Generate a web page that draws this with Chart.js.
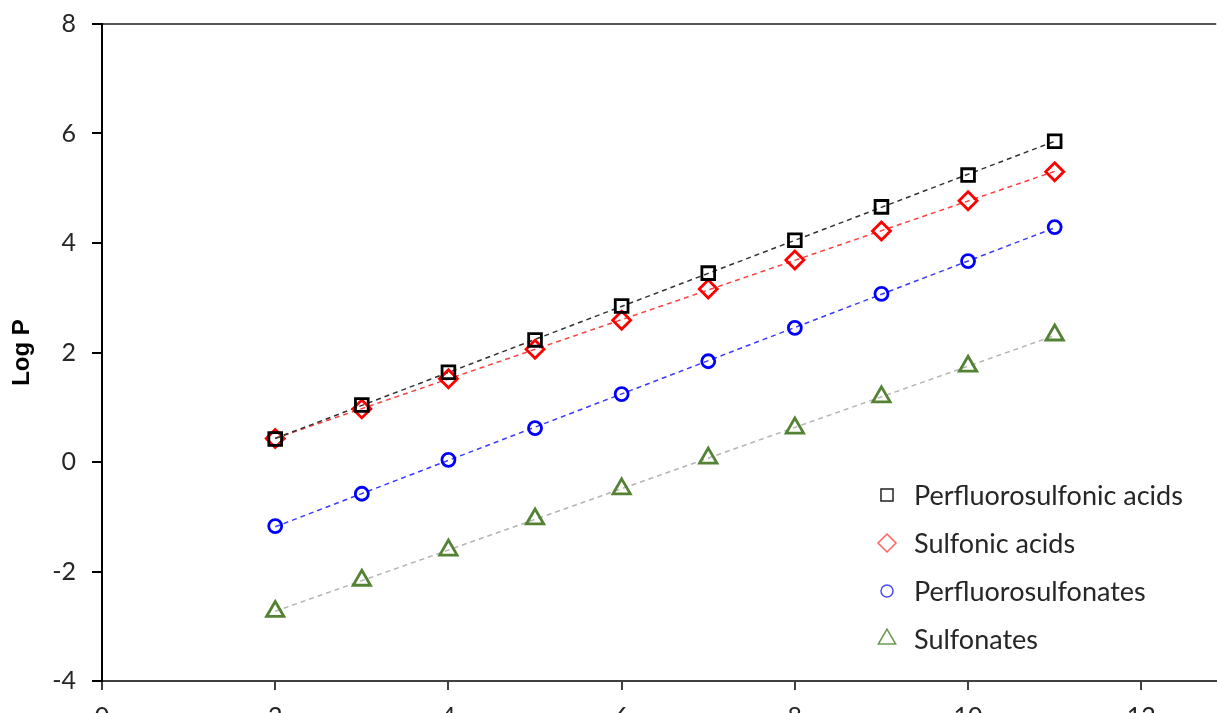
<!DOCTYPE html>
<html>
<head>
<meta charset="utf-8">
<script src="https://cdn.jsdelivr.net/npm/chart.js@4.4.1/dist/chart.umd.min.js"></script>
<style>
  html, body { margin: 0; padding: 0; background: #fff; overflow: hidden; }
  #wrap { position: relative; width: 1229px; height: 740px; }
</style>
</head>
<body>
<div id="wrap"><canvas id="chart"></canvas></div>
<script>
// carbon chain length
const chainLength = [2, 3, 4, 5, 6, 7, 8, 9, 10, 11];

const perfluorosulfonicAcids = [0.42, 1.04, 1.64, 2.23, 2.85, 3.45, 4.05, 4.66, 5.24, 5.86];
const sulfonicAcids = [0.43, 0.97, 1.52, 2.06, 2.59, 3.16, 3.69, 4.22, 4.77, 5.30];
const perfluorosulfonates = [-1.17, -0.58, 0.04, 0.62, 1.24, 1.84, 2.45, 3.07, 3.67, 4.29];
const sulfonates = [-2.73, -2.16, -1.61, -1.04, -0.49, 0.07, 0.62, 1.19, 1.75, 2.32];

const xTicks = [0, 2, 4, 6, 8, 10, 12];
const yTicks = [-4, -2, 0, 2, 4, 6, 8];

const series = [
  { label: 'Perfluorosulfonic acids', data: perfluorosulfonicAcids, color: '#000000', legendColor: '#222222', line: '#333333', style: 'rect', radius: 9, legendRadius: 8.5 },
  { label: 'Sulfonic acids', data: sulfonicAcids, color: '#ff0000', legendColor: '#ff6060', line: '#ff4040', style: 'rectRot', radius: 9, legendRadius: 9 },
  { label: 'Perfluorosulfonates', data: perfluorosulfonates, color: '#0000ff', legendColor: '#4a4aff', line: '#3a3aff', style: 'circle', radius: 6.5, legendRadius: 6 },
  { label: 'Sulfonates', data: sulfonates, color: '#548235', legendColor: '#6a9a50', line: '#b4b4b4', style: 'triangle', radius: 10, legendRadius: 10 }
];

// least squares trend line through each series
function fit(xs, ys) {
  const n = xs.length;
  const mx = xs.reduce((a, b) => a + b, 0) / n;
  const my = ys.reduce((a, b) => a + b, 0) / n;
  let sxy = 0, sxx = 0;
  for (let i = 0; i < n; i++) {
    sxy += (xs[i] - mx) * (ys[i] - my);
    sxx += (xs[i] - mx) * (xs[i] - mx);
  }
  const b = sxy / sxx;
  const a = my - b * mx;
  const x0 = xs[0], x1 = xs[n - 1];
  return [{ x: x0, y: a + b * x0 }, { x: x1, y: a + b * x1 }];
}

const datasets = [];
series.forEach(s => {
  datasets.push({
    label: s.label + ' trend',
    data: fit(chainLength, s.data),
    showLine: true,
    borderColor: s.line,
    borderWidth: 1.5,
    borderDash: [5, 4],
    pointRadius: 0,
    order: 2
  });
});
series.forEach(s => {
  datasets.push({
    label: s.label,
    data: chainLength.map((x, i) => ({ x: x, y: s.data[i] })),
    showLine: false,
    pointStyle: s.style,
    pointRadius: s.radius,
    pointBorderWidth: 2.8,
    pointBackgroundColor: 'rgba(255,255,255,0)',
    pointBorderColor: s.color,
    order: 1
  });
});

const legendPlugin = {
  id: 'insideLegend',
  afterDraw(chart) {
    const ctx = chart.ctx;
    ctx.save();
    ctx.textBaseline = 'middle';
    series.forEach((s, i) => {
      const y = 495 + i * 48;
      ctx.strokeStyle = s.legendColor;
      ctx.fillStyle = 'rgba(255,255,255,0)';
      ctx.lineWidth = 1.5;
      Chart.helpers.drawPoint(ctx, { pointStyle: s.style, radius: s.legendRadius, borderWidth: 1.5 }, 887, y);
      ctx.font = "27px Lato, 'Open Sans', sans-serif";
      ctx.fillStyle = '#262626';
      ctx.fillText(s.label, 914, y + 1);
    });
    ctx.restore();
  }
};

const tickFont = { family: "Lato, 'Open Sans', sans-serif", size: 25 };

new Chart(document.getElementById('chart'), {
  type: 'scatter',
  data: { datasets: datasets },
  plugins: [legendPlugin],
  options: {
    responsive: true,
    maintainAspectRatio: false,
    animation: false,
    layout: { padding: { top: 24, right: 0, left: 0, bottom: 0 } },
    plugins: {
      legend: { display: false },
      tooltip: { enabled: false }
    },
    scales: {
      x: {
        type: 'linear',
        min: 0,
        max: 12.865,
        afterBuildTicks: scale => { scale.ticks = xTicks.map(v => ({ value: v })); },
        afterFit: scale => { scale.height = 740 - 681; },
        grid: { drawOnChartArea: false, tickLength: 9, color: '#404040', lineWidth: 2 },
        border: { color: '#404040', width: 2 },
        ticks: { color: '#262626', font: tickFont, padding: 12, maxRotation: 0 }
      },
      y: {
        min: -4,
        max: 8,
        afterBuildTicks: scale => { scale.ticks = yTicks.map(v => ({ value: v })); },
        afterFit: scale => {
          scale.width = 102;
          scale.paddingTop = 0;
          scale.paddingBottom = 0;
        },
        grid: {
          drawOnChartArea: true,
          tickLength: 10,
          color: ctx => (ctx.tick && ctx.tick.value === 8 ? '#555555' : 'rgba(0,0,0,0)'),
          tickColor: '#000000',
          lineWidth: 2
        },
        border: { color: '#000000', width: 2 },
        ticks: { color: '#262626', font: tickFont, padding: 16 },
        title: {
          display: true,
          text: 'Log P',
          color: '#000000',
          font: { family: "'Liberation Sans', Arial, sans-serif", size: 24, weight: 'bold' },
          padding: { top: 8, bottom: 0 }
        }
      }
    }
  }
});
</script>
</body>
</html>
